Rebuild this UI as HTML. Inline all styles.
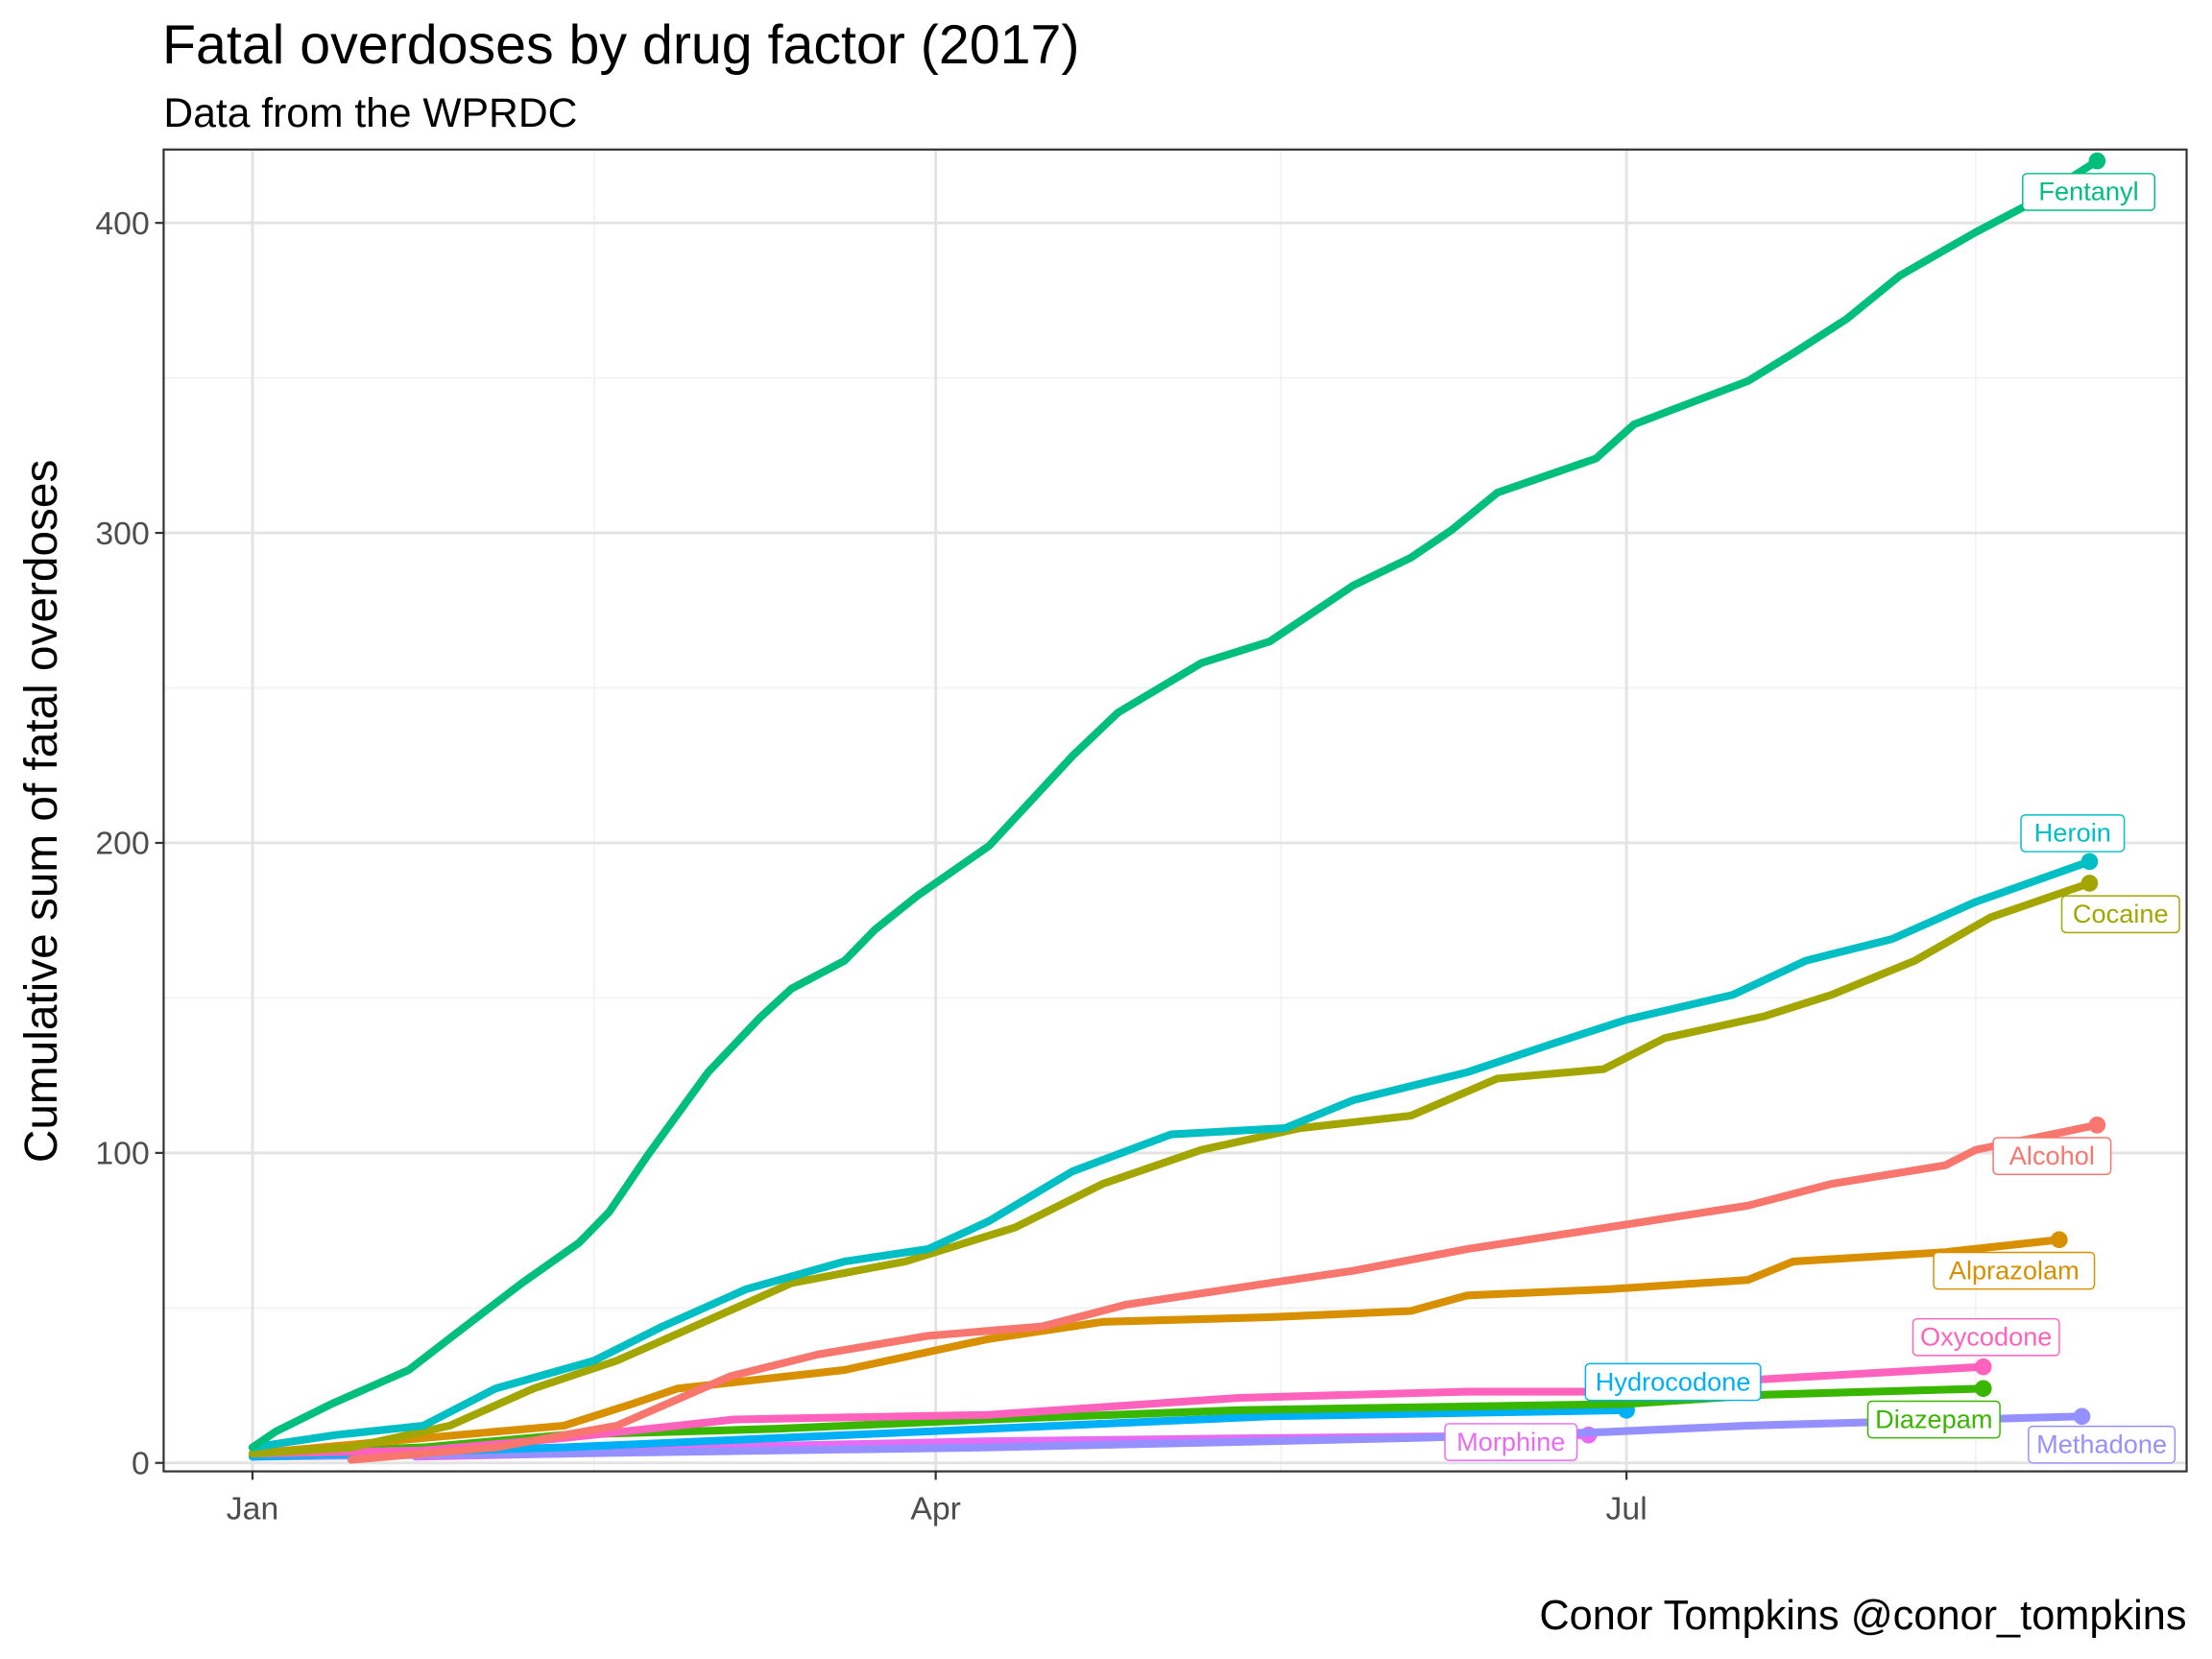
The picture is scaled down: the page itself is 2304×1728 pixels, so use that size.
<!DOCTYPE html>
<html><head><meta charset="utf-8"><style>
html,body{margin:0;padding:0;background:#fff;}
svg{display:block;font-family:"Liberation Sans",Arial,sans-serif;}
</style></head><body>
<svg id="chart" width="2304" height="1728" viewBox="0 0 1568 1176" xmlns="http://www.w3.org/2000/svg">
<rect x="0" y="0" width="1568" height="1176" fill="#fff"/>
<text x="115" y="45" font-size="39" fill="#000">Fatal overdoses by drug factor (2017)</text>
<text x="116" y="90" font-size="29" fill="#000">Data from the WPRDC</text>
<text x="1550" y="1155" font-size="29.5" text-anchor="end" fill="#000">Conor Tompkins @conor_tompkins</text>
<text transform="translate(40,575) rotate(-90)" font-size="32.5" text-anchor="middle" fill="#000">Cumulative sum of fatal overdoses</text>
<g id="grid"></g>
<g id="series"></g>
<g id="labels"></g>
<rect x="116" y="106" width="1434" height="937" fill="none" stroke="#333" stroke-width="1.5"/>
<g id="axes"></g>
</svg>
<script>
const names = ["Fentanyl","Heroin","Cocaine","Alcohol","Alprazolam","Oxycodone","Diazepam","Hydrocodone","Methadone","Morphine"];
const colors = ["#00BF7D","#00BFC4","#A3A500","#F8766D","#D89000","#FF62BC","#39B600","#00B0F6","#9590FF","#E76BF3"];
const fentanylDays = [0,3,10.4,20.6,28,35.5,43,47,52,60,67,71,78,82,87.6,97,108,114,125,134,145,152.6,158,164,177,182,197,203,210,217,227,234,243];
const fentanylVals = [5,10,19,30,44,58,71,81,99,126,144,153,162,172,183,199,228,242,258,265,283,292,301,313,324,335,349,358,369,383,397,406,420];
const heroinDays = [0,11,22.5,32,45,54,65,78,89,97,108,121,136,145,160,171,181,195,204.6,216,227,242];
const heroinVals = [5,9,12,24,33,44,56,65,69,78,94,106,108,117,126,135,143,151,162,169,181,194];
const cocaineDays = [0,13,26,37,48,60,71,86,100.5,112,125,138,152.6,164,178,186,199,208,219,229,242];
const cocaineVals = [3,5,12,24,33,46,58,65,76,90,101,108,112,124,127,137,144,151,162,176,187];
const alcoholDays = [13,32,48,63,74.5,89,104,115,134,145,160,178.6,197,208,223,227,243];
const alcoholVals = [1,5,12,28,35,41,44,51,58,62,69,76,83,90,96,101,109];
const alprazolamDays = [0,22.5,41,50,56,78,97,112,134,152.6,160,178.6,197,203,223,238];
const alprazolamVals = [3,8,12,19,24,30,40,45.5,47,49,54,56,59,65,68,72];
const oxycodoneDays = [0,22.5,41,63.5,97,130,160,181,199,228];
const oxycodoneVals = [3,4,8,14,15.5,21,23,23,27,31];
const diazepamDays = [0,22.5,41,69,97,130,181,199,228];
const diazepamVals = [3,5,9,11,14,17,19,22,24];
const hydrocodoneDays = [0,41,97,134,181];
const hydrocodoneVals = [2,5,11,15,17];
const methadoneDays = [0,41,97,152.6,178.6,197,241];
const methadoneVals = [2,3,5,8,10,12,15];
const morphineDays = [21.5,41,60,97,134,176];
const morphineVals = [2,3,5,7,8,9];
const yTicks = [0,100,200,300,400];
const yMinor = [50,150,250,350];
const xTickDays = [0,90,181];
const xTickLabels = ["Jan","Apr","Jul"];
const xMinorDays = [45,135.5,227];

const seriesDays = [fentanylDays,heroinDays,cocaineDays,alcoholDays,alprazolamDays,oxycodoneDays,diazepamDays,hydrocodoneDays,methadoneDays,morphineDays];
const seriesVals = [fentanylVals,heroinVals,cocaineVals,alcoholVals,alprazolamVals,oxycodoneVals,diazepamVals,hydrocodoneVals,methadoneVals,morphineVals];
const labelDx = [-6,-12,22,-32,-32,2,-35,33,14,-55];
const labelDy = [22,-20,22,22,22,-21,22,-20,20,5];

const X0=116,X1=1550,Y0=106,Y1=1043;
function xs(d){return 179 + d*5.381;}
function ys(v){return 1037 - v*2.1975;}
const NS="http://www.w3.org/2000/svg";
function mk(tag,attrs,parent){const e=document.createElementNS(NS,tag);for(const k in attrs)e.setAttribute(k,attrs[k]);parent.appendChild(e);return e;}
const grid=document.getElementById('grid'),ser=document.getElementById('series'),lab=document.getElementById('labels'),ax=document.getElementById('axes');

yMinor.forEach(v=>{const l=mk('line',{x1:X0,x2:X1,y1:ys(v),y2:ys(v),stroke:'#f0f0f0','stroke-width':1},grid);

});
xMinorDays.forEach(d=>{const l=mk('line',{x1:xs(d),x2:xs(d),y1:Y0,y2:Y1,stroke:'#f0f0f0','stroke-width':1},grid);

});
yTicks.forEach(v=>{const l=mk('line',{x1:X0,x2:X1,y1:ys(v),y2:ys(v),stroke:'#e3e3e3','stroke-width':2},grid);


const t=mk('line',{x1:X0-6,x2:X0,y1:ys(v),y2:ys(v),stroke:'#333','stroke-width':1.5},ax);


const tx=mk('text',{x:X0-10,y:ys(v)+8,'font-size':23,'text-anchor':'end',fill:'#4d4d4d'},ax);tx.textContent=v;

});
xTickDays.forEach((d,i)=>{const l=mk('line',{x1:xs(d),x2:xs(d),y1:Y0,y2:Y1,stroke:'#e3e3e3','stroke-width':2},grid);


const t=mk('line',{x1:xs(d),x2:xs(d),y1:Y1,y2:Y1+6,stroke:'#333','stroke-width':1.5},ax);


const tx=mk('text',{x:xs(d),y:Y1+34,'font-size':23,'text-anchor':'middle',fill:'#4d4d4d'},ax);tx.textContent=xTickLabels[i];

});

for(let i=seriesDays.length-1;i>=0;i--){
  const D=seriesDays[i],V=seriesVals[i];
  const pts=D.map((d,j)=>xs(d).toFixed(1)+','+ys(V[j]).toFixed(1)).join(' ');
  const p=mk('polyline',{points:pts,fill:'none',stroke:colors[i],'stroke-width':5.5,'stroke-linejoin':'round','stroke-linecap':'round'},ser);
  
  
  const ex=xs(D[D.length-1]),ey=ys(V[V.length-1]);
  const c=mk('circle',{cx:ex,cy:ey,r:6,fill:colors[i]},ser);
  
  
  const w=names[i].length*10.2+12, cx=ex+labelDx[i], cy=ey+labelDy[i];
  const g=mk('g',{},lab);
  
  
  mk('rect',{x:cx-w/2,y:cy-13,width:w,height:26,rx:3,fill:'#fff',stroke:colors[i],'stroke-width':1},g);
  const t=mk('text',{x:cx,y:cy+6,'font-size':18.5,'text-anchor':'middle',fill:colors[i]},g);t.textContent=names[i];
}
</script>
</body></html>
